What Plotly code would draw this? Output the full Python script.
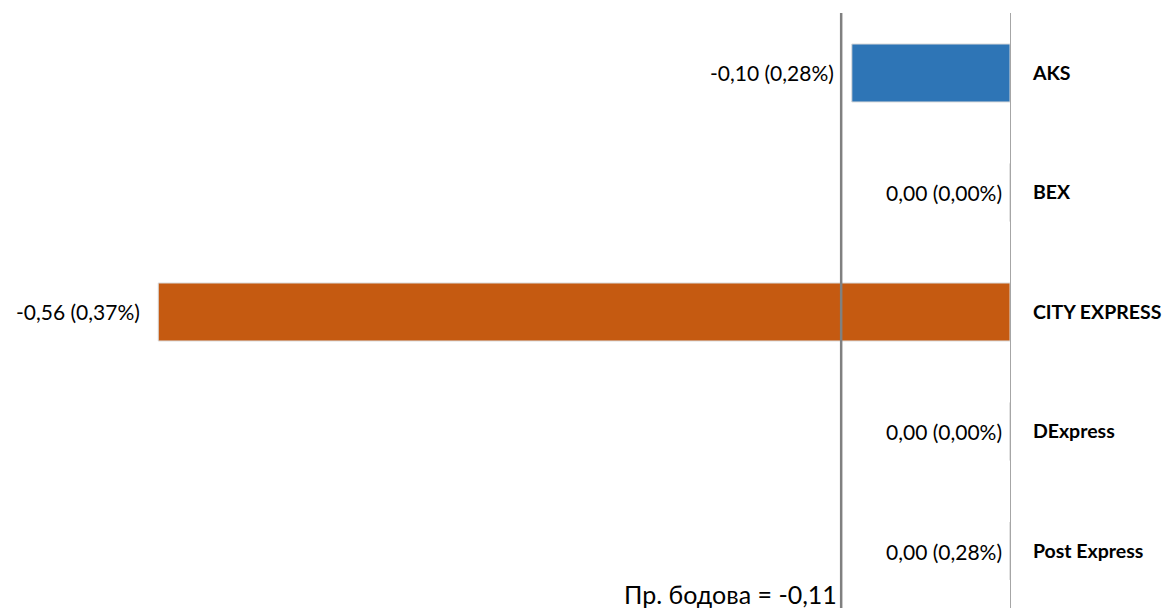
import plotly.graph_objects as go

categories = ["AKS", "BEX", "CITY EXPRESS", "DExpress", "Post Express"]
values = [-0.104, 0.0, -0.56, 0.0, 0.0]
labels = ["-0,10 (0,28%)", "0,00 (0,00%)", "-0,56 (0,37%)", "0,00 (0,00%)", "0,00 (0,28%)"]
colors = ["#2E75B6", "#A5A5A5", "#C55A11", "#FFC000", "#5B9BD5"]
average = -0.111
avg_label = "Пр. бодова = -0,11"

FONT = "Lato, 'Open Sans', sans-serif"
FS = 21

fig = go.Figure()
fig.add_trace(go.Bar(
    y=categories, x=values, orientation="h",
    marker=dict(color=colors, line=dict(color="#D9D9D9", width=1)),
    width=0.485, hoverinfo="skip",
))

for c, v, t in zip(categories, values, labels):
    fig.add_annotation(x=v, y=c, text=t, showarrow=False, xanchor="right",
                       xshift=-16 if v != 0 else -6,
                       font=dict(family=FONT, size=FS, color="#000000"))

fig.add_shape(type="line", x0=average, x1=average, xref="x", yref="paper",
              y0=0, y1=1, line=dict(color="#808080", width=2.5))
fig.add_annotation(x=average, xref="x", y=0, yref="paper", text=avg_label,
                   showarrow=False, xanchor="right", yanchor="bottom",
                   xshift=-2, yshift=-3,
                   font=dict(family=FONT, size=25, color="#000000"))

fig.update_layout(
    width=1163, height=600,
    margin=dict(l=0, r=161, t=5, b=0),
    paper_bgcolor="white", plot_bgcolor="white",
    showlegend=False,
    xaxis=dict(range=[-0.6588, 0], showgrid=False, zeroline=False,
               showticklabels=False, showline=False),
    yaxis=dict(side="right", range=[4.477, -0.502], showgrid=False,
               zeroline=False, showline=True, linecolor="#A6A6A6", linewidth=1,
               ticks="", ticklabelstandoff=18,
               tickfont=dict(family=FONT, size=19.5, color="#000000", weight="bold")),
)

fig.write_html("out.html")
